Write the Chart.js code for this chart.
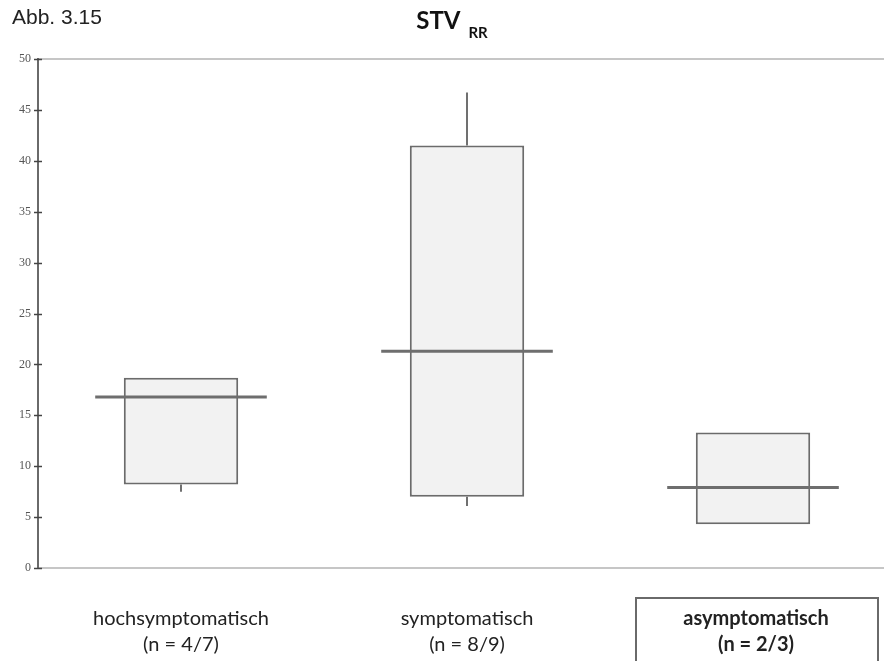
<!DOCTYPE html>
<html>
<head>
<meta charset="utf-8">
<script src="https://cdn.jsdelivr.net/npm/chart.js@4"></script>
<style>
  html, body { margin: 0; padding: 0; background: #fff; overflow: hidden; }
  #wrap { width: 884px; height: 661px; position: relative; }
</style>
</head>
<body>
<div id="wrap"><canvas id="c" width="884" height="661"></canvas></div>
<script>
// STV_RR per Symptomgruppe: Box (Q1–Q3), Median, Whisker
const groupNames = ['hochsymptomatisch', 'symptomatisch', 'asymptomatisch'];
const groupCounts = ['(n = 4/7)', '(n = 8/9)', '(n = 2/3)'];
const boxLow = [8.2, 7.0, 4.3];
const boxHigh = [18.7, 41.5, 13.3];
const medians = [16.8, 21.3, 7.9];
const whiskerLow = [7.5, 6.1, null];
const whiskerHigh = [null, 46.7, null];
const yMin = 0, yMax = 50, yStep = 5;
const highlighted = 2; // Gruppe mit Rahmen und Fettschrift

const AXIS = '#6a6a6a';
const BOX_FILL = '#f2f2f2';
const BOX_LINE = '#6b6b6b';
const MEDIAN_LINE = '#6e6e6e';
const FRAME_LINE = '#c6c6c6';
const LABEL_FONT = 'Lato, "Open Sans", sans-serif';

const boxPlotDecor = {
  id: 'boxPlotDecor',
  beforeDatasetsDraw(chart) {
    const { ctx } = chart;
    const x = chart.scales.x, y = chart.scales.y;
    ctx.save();
    ctx.strokeStyle = '#707070';
    ctx.lineWidth = 2;
    for (let i = 0; i < boxLow.length; i++) {
      const px = Math.round(x.getPixelForValue(i));
      if (whiskerLow[i] !== null) {
        ctx.beginPath();
        ctx.moveTo(px, y.getPixelForValue(boxLow[i]));
        ctx.lineTo(px, y.getPixelForValue(whiskerLow[i]));
        ctx.stroke();
      }
      if (whiskerHigh[i] !== null) {
        ctx.beginPath();
        ctx.moveTo(px, y.getPixelForValue(boxHigh[i]));
        ctx.lineTo(px, y.getPixelForValue(whiskerHigh[i]));
        ctx.stroke();
      }
    }
    ctx.restore();
  },
  afterDatasetsDraw(chart) {
    const { ctx, chartArea } = chart;
    const x = chart.scales.x, y = chart.scales.y;
    ctx.save();
    // Medianlinien, breiter als die Box
    ctx.strokeStyle = MEDIAN_LINE;
    ctx.lineWidth = 3;
    for (let i = 0; i < medians.length; i++) {
      const py = y.getPixelForValue(medians[i]);
      ctx.beginPath();
      ctx.moveTo(x.getPixelForValue(i - 0.3), py);
      ctx.lineTo(x.getPixelForValue(i + 0.3), py);
      ctx.stroke();
    }
    // Teilstriche quer über die y-Achse
    ctx.strokeStyle = '#444';
    ctx.lineWidth = 1.5;
    for (let v = yMin; v <= yMax; v += yStep) {
      const py = Math.round(y.getPixelForValue(v)) + 0.5;
      ctx.beginPath();
      ctx.moveTo(chartArea.left - 4, py);
      ctx.lineTo(chartArea.left + 4, py);
      ctx.stroke();
    }
    ctx.restore();
  },
  afterDraw(chart) {
    const { ctx } = chart;
    const x = chart.scales.x;
    ctx.save();
    // Abbildungsnummer
    ctx.fillStyle = '#222';
    ctx.font = '21px "Liberation Sans", Arial, sans-serif';
    ctx.textAlign = 'left';
    ctx.textBaseline = 'alphabetic';
    ctx.fillText('Abb. 3.15', 12, 24);
    // Titel STV mit tiefgestelltem RR
    const main = 'STV', sub = 'RR';
    ctx.font = 'bold 15px ' + LABEL_FONT;
    const subW = ctx.measureText(sub).width;
    ctx.font = 'bold 24px ' + LABEL_FONT;
    const mainW = ctx.measureText(main).width;
    const total = mainW + 8 + subW;
    const tx = 452 - total / 2;
    ctx.fillStyle = '#111';
    ctx.fillText(main, tx, 29);
    ctx.font = 'bold 15px ' + LABEL_FONT;
    ctx.fillText(sub, tx + mainW + 8, 38);
    // Kategoriebeschriftungen
    ctx.textAlign = 'center';
    for (let i = 0; i < groupNames.length; i++) {
      const cx = x.getPixelForValue(i) + (i === highlighted ? 3 : 0);
      const bold = i === highlighted ? 'bold ' : '';
      if (i === highlighted) {
        const left = x.getPixelForValue(i - 0.41);
        const right = x.getPixelForValue(i + 0.436);
        ctx.strokeStyle = '#6a6a6a';
        ctx.lineWidth = 2;
        ctx.strokeRect(Math.round(left), 598, Math.round(right - left), 80);
      }
      ctx.fillStyle = '#222';
      ctx.font = bold + '20px ' + LABEL_FONT;
      ctx.fillText(groupNames[i], cx, 625);
      ctx.fillText(groupCounts[i], cx, 651);
    }
    ctx.restore();
  }
};

new Chart(document.getElementById('c'), {
  type: 'bar',
  data: {
    datasets: [{
      data: boxLow.map((lo, i) => ({ x: i, y: [lo, boxHigh[i]] })),
      backgroundColor: BOX_FILL,
      borderColor: BOX_LINE,
      borderWidth: 2,
      borderSkipped: false,
      barPercentage: 0.4,
      categoryPercentage: 1
    }]
  },
  options: {
    responsive: false,
    animation: false,
    layout: { padding: { top: 59, bottom: 93, left: 0, right: 0 } },
    plugins: { legend: { display: false }, tooltip: { enabled: false }, title: { display: false } },
    scales: {
      x: {
        type: 'linear',
        offset: false,
        min: -0.5,
        max: 2.458,
        display: false,
        // one tick per group so the bar width follows the group spacing
        afterBuildTicks(scale) { scale.ticks = groupNames.map((_, i) => ({ value: i })); }
      },
      y: {
        min: yMin,
        max: yMax,
        afterFit(scale) { scale.width = 38; },
        border: { display: true, color: AXIS, width: 2 },
        grid: {
          drawTicks: false,
          lineWidth: 2,
          color: (ctx) => (ctx.tick && (ctx.tick.value === yMin || ctx.tick.value === yMax)) ? FRAME_LINE : 'rgba(0,0,0,0)'
        },
        ticks: {
          stepSize: yStep,
          padding: 7,
          color: '#555',
          font: { family: '"Liberation Serif", "Times New Roman", serif', size: 12 }
        }
      }
    }
  },
  plugins: [boxPlotDecor]
});
</script>
</body>
</html>
